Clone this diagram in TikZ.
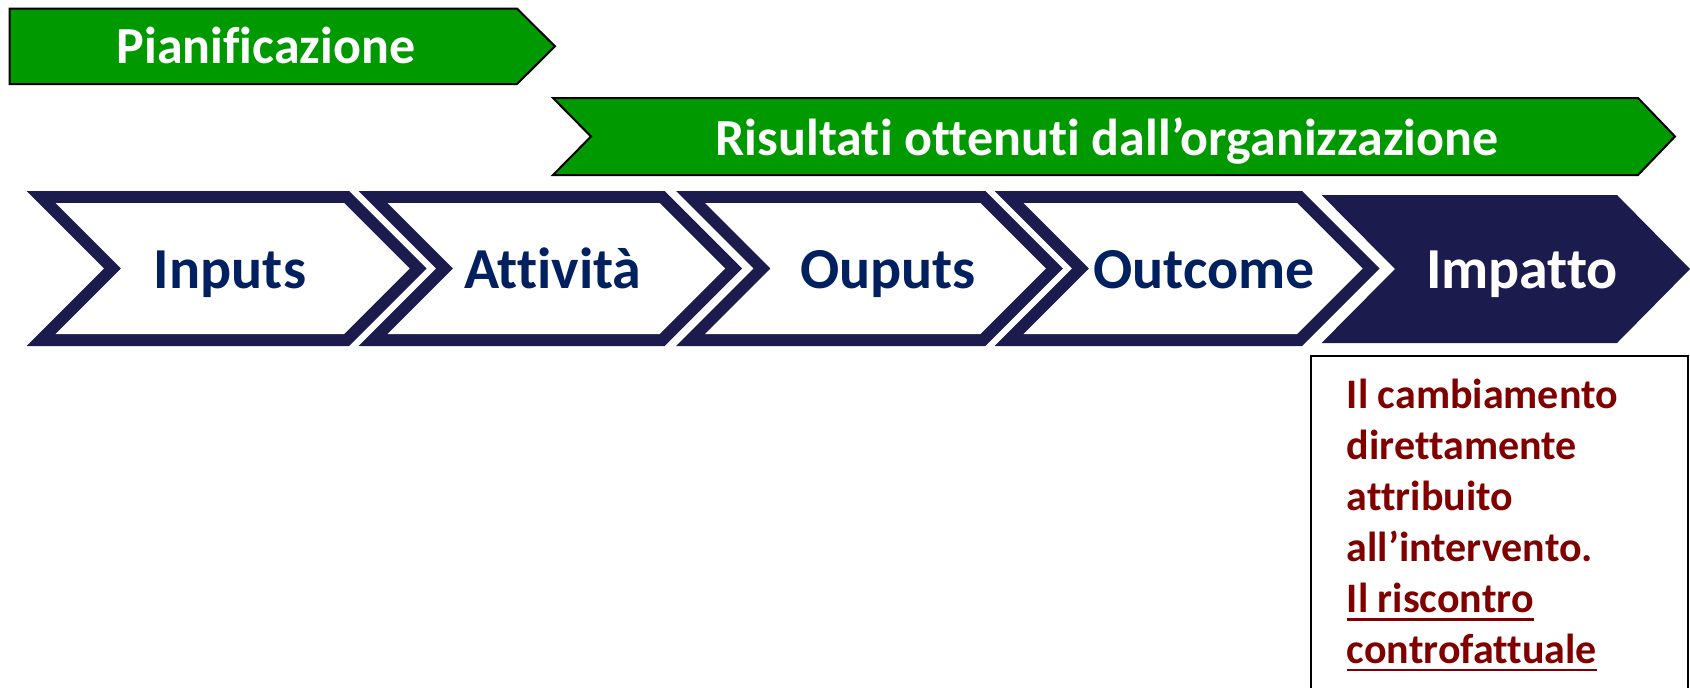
\documentclass[tikz,border=0pt]{standalone}
\usepackage{fontspec}
\setmainfont{Carlito}[Ligatures=NoCommon]
\definecolor{navy}{RGB}{27,27,78}
\definecolor{txtnavy}{RGB}{0,32,96}
\definecolor{grn}{RGB}{0,153,0}
\definecolor{dred}{RGB}{128,0,0}
\newcommand\mychev[2]{%
  \fill[navy] (#1,191) -- ++(#2,0) -- ++(77.5,77.5) -- ++(-77.5,77.5) -- ++(-#2,0) -- ++(77.5,-77.5) -- cycle;
  \fill[white] (#1+29,203) -- (#1+#2-5,203) -- (#1+#2+60.5,268.5) -- (#1+#2-5,334) -- (#1+29,334) -- (#1+94.5,268.5) -- cycle;
}
\tikzset{
  greenarrow/.style={fill=grn, draw=black, line width=2pt, line join=miter},
  greenlabel/.style={text=white, inner sep=0pt, anchor=base, font=\bfseries\fontsize{52}{60}\selectfont},
  chevlabel/.style={text=txtnavy, inner sep=0pt, anchor=base, font=\bfseries\fontsize{58}{70}\selectfont},
  boxline/.style={text=dred, inner sep=0pt, anchor=base west, font=\bfseries\fontsize{42}{50}\selectfont},
  uline/.style={draw=dred, line width=2.7pt}
}
\begin{document}
\begin{tikzpicture}[x=1pt,y=-1pt]
\useasboundingbox (0,0) rectangle (1690,688);
% green arrows
\path[greenarrow] (9.6,8.6) -- (517,8.6) -- (555,46.3) -- (517,84) -- (9.6,84) -- cycle;
\node[greenlabel] (plan) at (266,63.3) {Pianificazione};
\path[greenarrow] (553,98) -- (1638,98) -- (1675,136.5) -- (1638,175) -- (553,175) -- (591,136.5) -- cycle;
\node[greenlabel] (ris) at (1107,155) {Risultati ottenuti dall’organizzazione};
% chevrons
\mychev{26.7}{322.3}
\mychev{358.7}{306}
\mychev{676}{309.4}
\mychev{994.5}{307.5}
\fill[navy] (1321.6,195) -- (1617,195) -- (1690,269) -- (1617,343) -- (1321.6,343) -- (1395,269) -- cycle;
\node[chevlabel] (inp) at (230,288.3) {Inputs};
\node[chevlabel] (att) at (553,288.3) {Attività};
\node[chevlabel] (outp) at (888,288.3) {Ouputs};
\node[chevlabel] (outc) at (1204,288.3) {Outcome};
\node[chevlabel, text=white] (imp) at (1522,288.3) {Impatto};
% box
\draw[black, line width=2pt] (1311,692) -- (1311,356) -- (1688,356) -- (1688,692);
\node[boxline] (l1) at (1346.7,408.3) {Il cambiamento};
\node[boxline] (l2) at (1346.7,459.3) {direttamente};
\node[boxline] (l3) at (1346.7,510.5) {attribuito};
\node[boxline] (l4) at (1346.7,561.7) {all’intervento.};
\node[boxline] (l5) at (1346.7,612.7) {Il riscontro};
\node[boxline] (l6) at (1346.7,663.5) {controfattuale};
\draw[uline] ([yshift=-6.6pt]l5.base west) -- ([yshift=-6.6pt]l5.base east);
\draw[uline] ([yshift=-6.6pt]l6.base west) -- ([yshift=-6.6pt]l6.base east);
\end{tikzpicture}
\end{document}
